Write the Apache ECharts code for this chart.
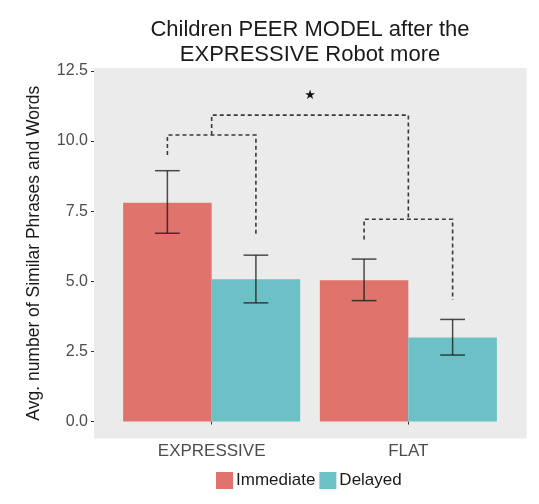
<!DOCTYPE html>
<html>
<head>
<meta charset="utf-8">
<script src="https://cdn.jsdelivr.net/npm/echarts@6/dist/echarts.min.js"></script>
<style>html,body{margin:0;padding:0;background:#fff}#c{width:539px;height:504px}</style>
</head>
<body>
<div id="c"></div>
<script>
const categories = ['EXPRESSIVE', 'FLAT'];
const seriesNames = ['Immediate', 'Delayed'];
const immediate = [7.80, 5.04];
const delayed = [5.07, 3.00];
const immediateLow = [6.71, 4.31];
const immediateHigh = [8.94, 5.79];
const delayedLow = [4.23, 2.37];
const delayedHigh = [5.93, 3.64];
const yTicks = [0, 2.5, 5, 7.5, 10, 12.5];
// brackets: [leftCat, leftSlot, rightCat, rightSlot, leftBottom, rightBottom, top]
const brackets = [
  [0, -1, 0, 1, 9.50, 6.65, 10.21],
  [1, -1, 1, 1, 6.49, 4.33, 7.21],
  [0, 0, 1, 0, 10.21, 7.21, 10.92]
];
const starLevel = 11.6;

const FONT = 'Liberation Sans, Arial, Helvetica, sans-serif';
const RED = '#e0736b';
const TEAL = '#6bc1c5';

const errData = [];
for (let i = 0; i < categories.length; i++) {
  errData.push([i, immediateLow[i], immediateHigh[i], 0]);
  errData.push([i, delayedLow[i], delayedHigh[i], 1]);
}

const chart = echarts.init(document.getElementById('c'), null, {renderer: 'canvas'});

const gridLeft = 113.3, gridTop = 68, gridW = 393.4, gridH = 370.4;
const panelLeft = 94, panelRight = 526.7;

chart.setOption({
  backgroundColor: '#fff',
  animation: false,
  title: {
    text: 'Children PEER MODEL after the\nEXPRESSIVE Robot more',
    left: 310, top: 17, textAlign: 'center', padding: 0,
    textStyle: {fontFamily: FONT, fontSize: 22, fontWeight: 'normal', color: '#1a1a1a', lineHeight: 25}
  },
  graphic: [{
    type: 'rect', z: -10, silent: true,
    shape: {x: panelLeft, y: gridTop, width: panelRight - panelLeft, height: gridH},
    style: {fill: '#ebebeb'}
  }],
  legend: {
    data: seriesNames, left: 216, top: 472, padding: 0,
    icon: 'rect', itemWidth: 17, itemHeight: 17, itemGap: 4,
    textStyle: {fontFamily: FONT, fontSize: 17, color: '#1a1a1a', padding: [0, 0, 0, -2]}
  },
  grid: {left: gridLeft, top: gridTop, width: gridW, height: gridH, containLabel: false},
  xAxis: {
    type: 'category', data: categories, boundaryGap: true,
    axisLine: {show: false},
    axisTick: {show: true, alignWithLabel: true, length: 3, lineStyle: {color: '#333'}},
    axisLabel: {fontFamily: FONT, fontSize: 17, color: '#4d4d4d', margin: 4},
    splitLine: {show: false}
  },
  yAxis: {
    type: 'value', min: -0.6, max: 12.6, offset: gridLeft - panelLeft,
    name: 'Avg. number of Similar Phrases and Words', nameLocation: 'middle', nameRotate: 90, nameGap: 51,
    nameTextStyle: {fontFamily: FONT, fontSize: 17.5, color: '#1a1a1a'},
    axisLine: {show: false},
    axisTick: {show: true, length: 3, lineStyle: {color: '#333'}, customValues: yTicks},
    axisLabel: {fontFamily: FONT, fontSize: 16, color: '#4d4d4d', margin: 6, customValues: yTicks,
      formatter: v => v.toFixed(1)},
    splitLine: {show: false}
  },
  series: [
    {name: 'Immediate', type: 'bar', data: immediate, itemStyle: {color: RED}, barGap: '0%', barCategoryGap: '10%'},
    {name: 'Delayed', type: 'bar', data: delayed, itemStyle: {color: TEAL}, barGap: '0%', barCategoryGap: '10%'},
    {
      type: 'custom', data: errData, z: 5, silent: true,
      encode: {x: 0, y: [1, 2]},
      renderItem: function (params, api) {
        const cat = api.value(0), lo = api.value(1), hi = api.value(2), s = api.value(3);
        const band = api.size([1, 0])[0];
        const barW = band * 0.9 / 2;
        const off = (s === 0 ? -0.5 : 0.5) * barW;
        const pTop = api.coord([cat, hi]);
        const pBot = api.coord([cat, lo]);
        const x = pTop[0] + off;
        const half = barW * 0.14;
        const st = {stroke: 'rgba(20,20,20,0.75)', lineWidth: 1.5};
        return {type: 'group', children: [
          {type: 'line', shape: {x1: x, y1: pTop[1], x2: x, y2: pBot[1]}, style: st},
          {type: 'line', shape: {x1: x - half, y1: pTop[1], x2: x + half, y2: pTop[1]}, style: st},
          {type: 'line', shape: {x1: x - half, y1: pBot[1], x2: x + half, y2: pBot[1]}, style: st}
        ]};
      }
    },
    {
      type: 'custom', data: brackets, z: 6, silent: true,
      encode: {x: 0, y: 6},
      renderItem: function (params, api) {
        const band = api.size([1, 0])[0];
        const barW = band * 0.9 / 2;
        const lc = api.value(0), ls = api.value(1), rc = api.value(2), rs = api.value(3);
        const lb = api.value(4), rb = api.value(5), top = api.value(6);
        const xl = api.coord([lc, top])[0] + ls * barW / 2;
        const xr = api.coord([rc, top])[0] + rs * barW / 2;
        const yt = api.coord([lc, top])[1];
        const yl = api.coord([lc, lb])[1];
        const yr = api.coord([rc, rb])[1];
        const children = [{
          type: 'polyline',
          shape: {points: [[xl, yl], [xl, yt], [xr, yt], [xr, yr]]},
          style: {stroke: '#3a3a3a', lineWidth: 1.6, lineDash: [4, 3], fill: null}
        }];
        if (params.dataIndex === brackets.length - 1) {
          const ys = api.coord([lc, starLevel])[1];
          children.push({
            type: 'text',
            style: {text: '\u2605', x: (xl + xr) / 2, y: ys, align: 'center', verticalAlign: 'middle',
              font: '13px DejaVu Sans', fill: '#111'}
          });
        }
        return {type: 'group', children: children};
      }
    }
  ]
});
</script>
</body>
</html>
